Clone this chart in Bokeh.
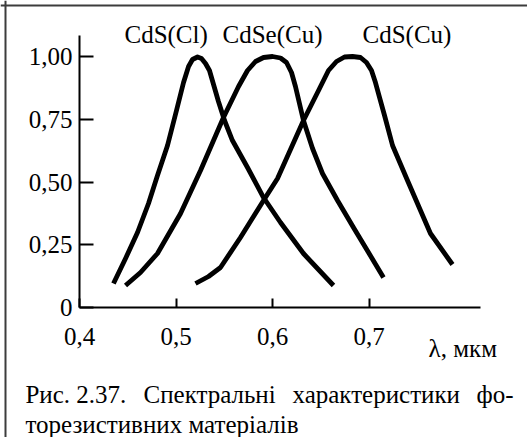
from bokeh.plotting import figure
from bokeh.models import Range1d, FixedTicker, CustomJSTickFormatter, Label, Span
from bokeh.embed import file_html
from bokeh.resources import INLINE

# wavelength, micrometres / relative sensitivity
wl_cdscl = [0.4352, 0.4477, 0.4601, 0.4715, 0.4808, 0.4912, 0.5005, 0.5078, 0.5130, 0.5171,
            0.5223, 0.5264, 0.5306, 0.5347, 0.5389, 0.5440, 0.5503, 0.5585, 0.5741, 0.5907,
            0.6083, 0.6321, 0.6632]
s_cdscl = [0.0956, 0.1952, 0.2988, 0.4143, 0.5259, 0.6454, 0.7849, 0.8964, 0.9602, 0.9880,
           0.998, 0.992, 0.9721, 0.9442, 0.8884, 0.8207, 0.7450, 0.6653, 0.5578, 0.4382,
           0.3386, 0.2151, 0.0876]

wl_cdsecu = [0.4477, 0.4632, 0.4808, 0.5047, 0.5254, 0.5492, 0.5648, 0.5741, 0.5824, 0.5907,
             0.6000, 0.6083, 0.6145, 0.6197, 0.6238, 0.6321, 0.6415, 0.6518, 0.6674, 0.6839,
             0.6995, 0.7150]
s_cdsecu = [0.0876, 0.1394, 0.2151, 0.3745, 0.5458, 0.7570, 0.8805, 0.9442, 0.9801, 0.9960,
            1.0, 0.994, 0.9761, 0.9363, 0.8805, 0.7450, 0.6335, 0.5339, 0.4263, 0.3187,
            0.2191, 0.1195]

wl_cdscu = [0.5202, 0.5337, 0.5461, 0.5668, 0.5907, 0.6052, 0.6321, 0.6477, 0.6580, 0.6663,
            0.6746, 0.6829, 0.6912, 0.6974, 0.7026, 0.7067, 0.7109, 0.7161, 0.7244, 0.7399,
            0.7637, 0.7865]
s_cdscu = [0.0956, 0.1235, 0.1594, 0.2789, 0.4263, 0.5139, 0.7450, 0.8645, 0.9442, 0.9801,
           0.998, 1.0, 0.996, 0.9761, 0.9442, 0.8964, 0.8367, 0.7649, 0.6454, 0.5060,
           0.2948, 0.1713]

series_names = ["CdS(Cl)", "CdSe(Cu)", "CdS(Cu)"]
x_ticks = [0.4, 0.5, 0.6, 0.7]
y_ticks = [0, 0.25, 0.5, 0.75, 1.0]
x_unit = "λ, мкм"
caption_line1 = ["Рис. 2.37.", "Спектральні", "характеристики", "фо-"]
caption_line2 = "торезистивних матеріалів"

FONT = "Liberation Serif"
FS = "25px"

p = figure(width=527, height=437, output_backend="svg", toolbar_location=None,
           x_range=Range1d(0.4 - 79 / 965, 0.4 + 448 / 965),
           y_range=Range1d(-130 / 251, 307 / 251),
           min_border=0, title=None)
p.xgrid.visible = False
p.ygrid.visible = False
p.outline_line_color = None
p.background_fill_color = "white"
p.border_fill_color = "white"

for ax in (p.xaxis[0], p.yaxis[0]):
    ax.axis_line_width = 2
    ax.axis_line_color = "black"
    ax.major_tick_line_width = 2
    ax.major_tick_line_color = "black"
    ax.minor_tick_line_color = None
    ax.major_tick_out = 0
    ax.major_label_text_font = FONT
    ax.major_label_text_font_size = FS
    ax.major_label_text_color = "black"

xa, ya = p.xaxis[0], p.yaxis[0]
xa.fixed_location = 0
ya.fixed_location = 0.4
xa.bounds = (0.4, 0.8155)
ya.bounds = (0, 1.0837)
xa.ticker = FixedTicker(ticks=x_ticks)
ya.ticker = FixedTicker(ticks=y_ticks)
xa.major_tick_in = 9
ya.major_tick_in = 14
xa.major_label_standoff = 20
ya.major_label_standoff = 7
xa.formatter = CustomJSTickFormatter(code="return tick.toFixed(1).replace('.', ',');")
ya.formatter = CustomJSTickFormatter(code="return tick == 0 ? '0' : tick.toFixed(2).replace('.', ',');")

# outer frame of the figure (left and top edges)
p.add_layout(Span(location=0.4 - 74 / 965, dimension="height", line_color="#3c3c3c", line_width=2))
p.add_layout(Span(location=302 / 251, dimension="width", line_color="#3c3c3c", line_width=2))

for xs, ys in ((wl_cdscl, s_cdscl), (wl_cdsecu, s_cdsecu), (wl_cdscu, s_cdscu)):
    p.line(xs, ys, line_color="black", line_width=4.8, line_join="round")

def lab(x, y, t, align="left"):
    p.add_layout(Label(x=x, y=y, text=t, text_font=FONT, text_font_size=FS,
                       text_color="black", text_align=align, text_baseline="alphabetic"))

for x, t in zip([0.4466, 0.5482, 0.6933], series_names):
    lab(x, 1.0876, t)
lab(0.7617, -0.1633, x_unit)
for x, t, a in zip([0.3440, 0.4663, 0.6207, 0.8497], caption_line1, ["left", "left", "left", "right"]):
    lab(x, -0.3466, t, a)
lab(0.3440, -0.4661, caption_line2)

open("out.html", "w").write(file_html(p, INLINE))
